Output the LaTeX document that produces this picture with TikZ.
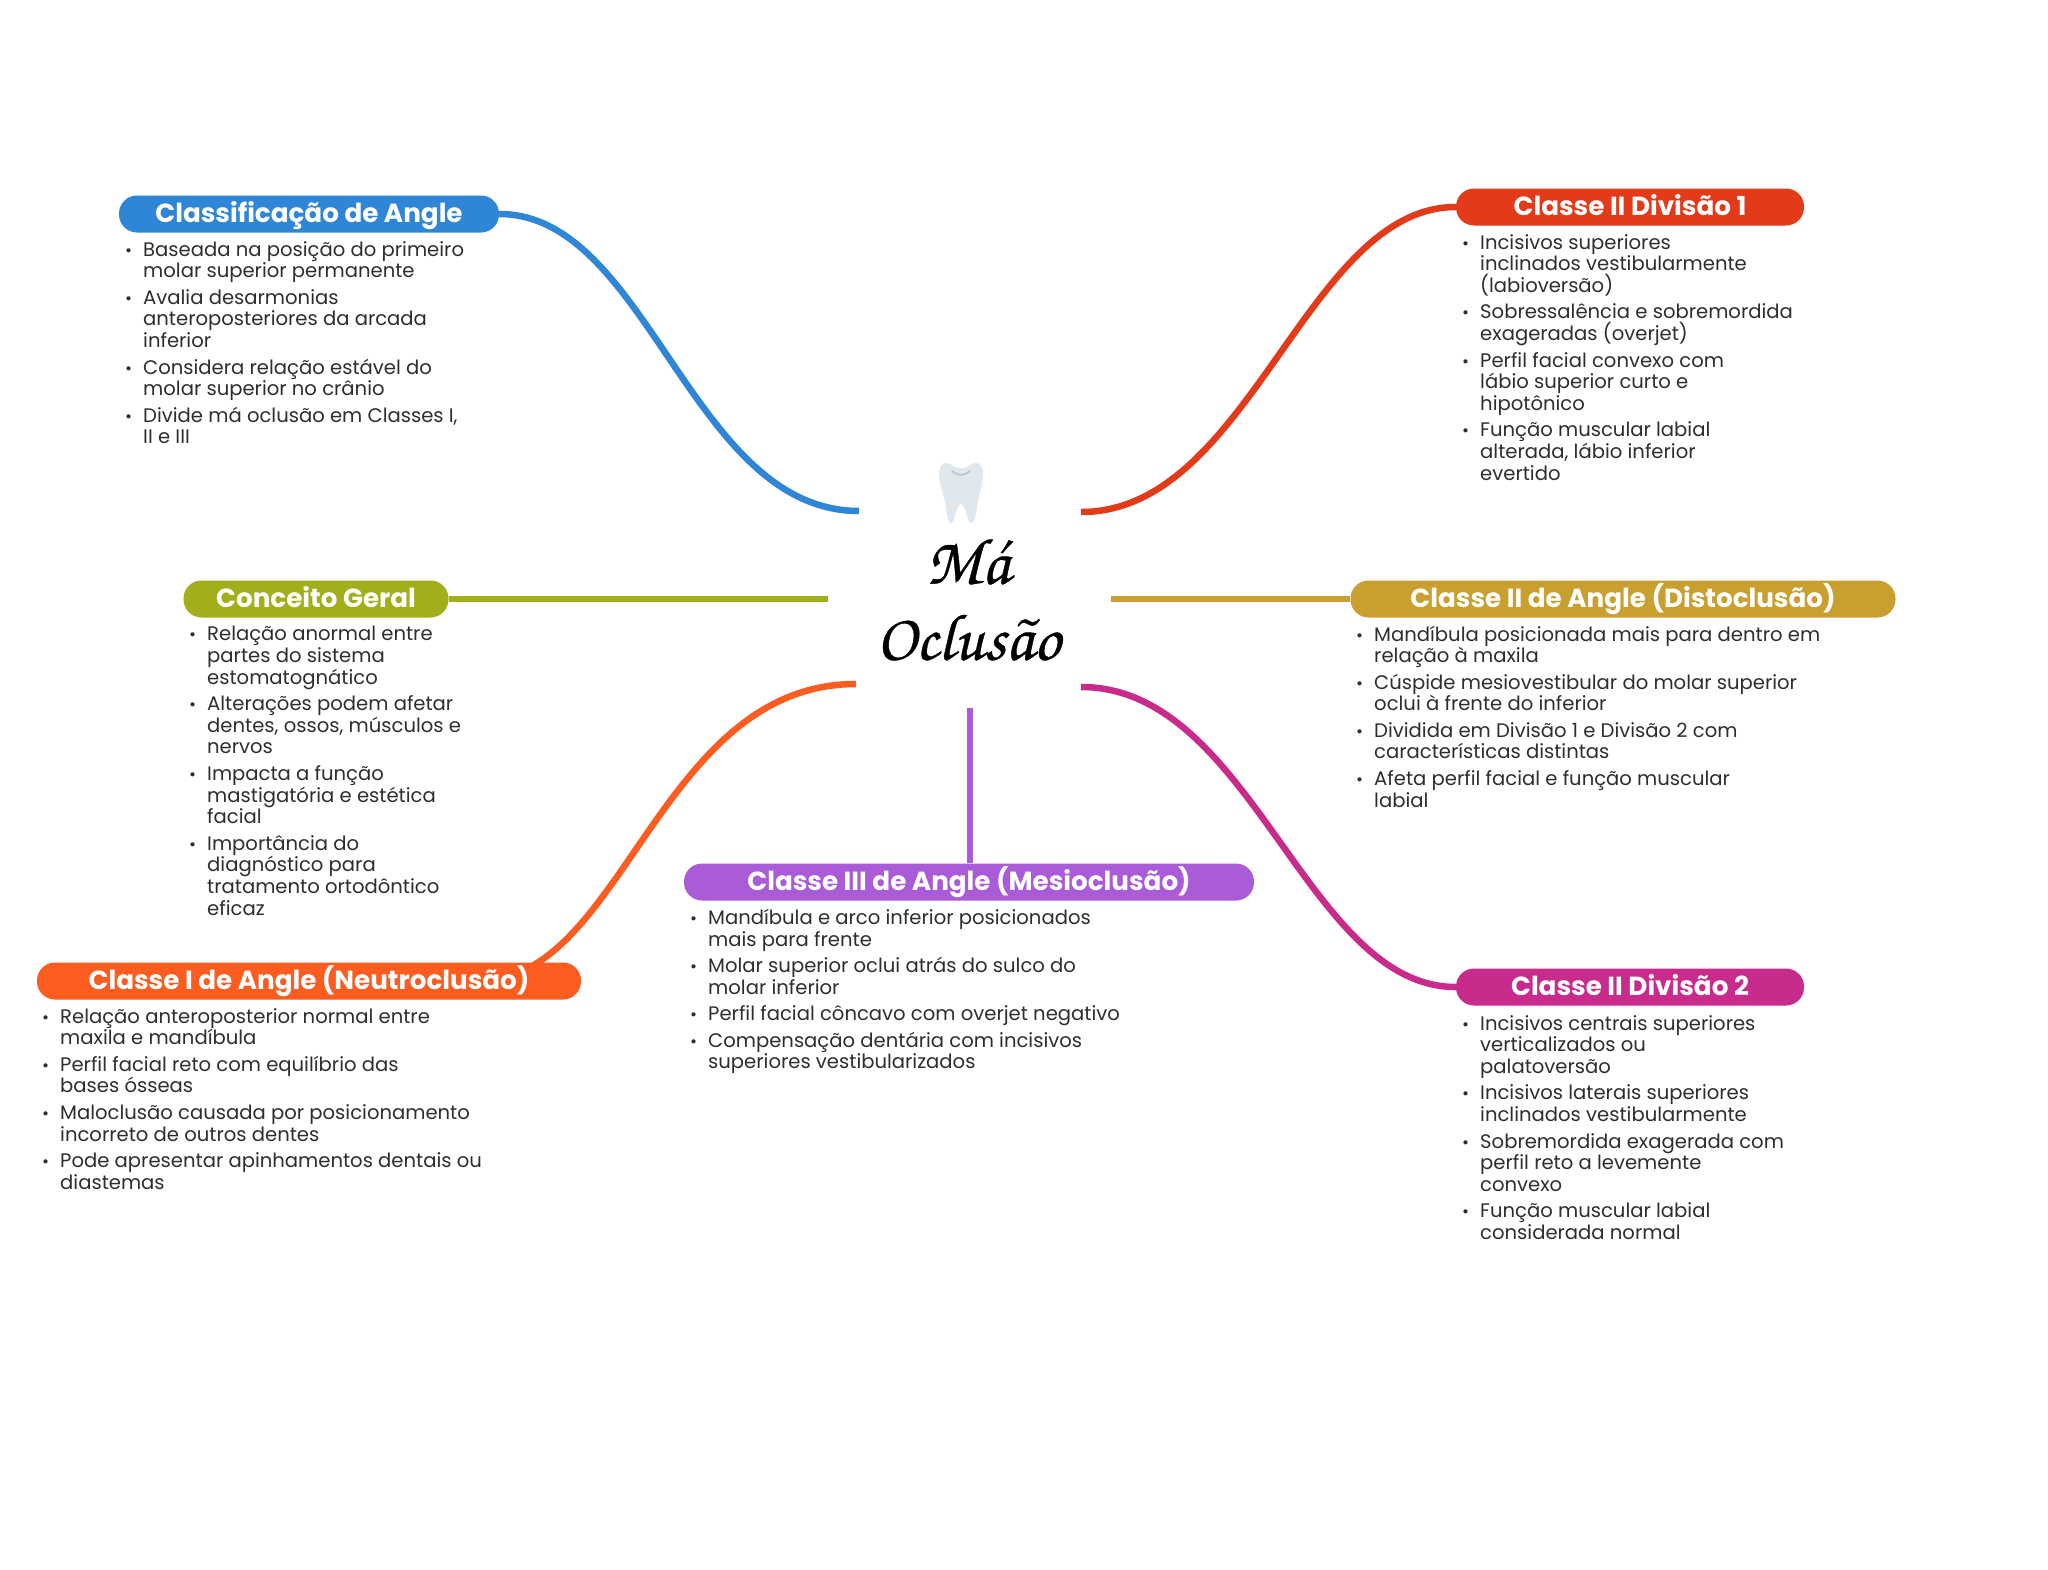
\documentclass[tikz,border=0pt]{standalone}
\usepackage{fontspec}
\usetikzlibrary{backgrounds}
\setmainfont{Poppins}
\newfontfamily\chorus[FakeBold=0.6]{TeX Gyre Chorus}
\definecolor{cblue}{HTML}{2F86D6}
\definecolor{cred}{HTML}{E33A1A}
\definecolor{cgreen}{HTML}{A3AE1B}
\definecolor{cyellow}{HTML}{C9A030}
\definecolor{cpurple}{HTML}{A95BD8}
\definecolor{corange}{HTML}{FB5C20}
\definecolor{cmag}{HTML}{C82B8B}
\definecolor{ctext}{HTML}{2E2E2E}
\definecolor{ctooth}{HTML}{E0E7ED}
\definecolor{csmile}{HTML}{B8C2CC}
\newcommand{\bl}{\leavevmode\llap{\fontsize{17}{17}\selectfont •\hspace{11pt}}}
\tikzset{
  pill/.style={fill=#1,rounded corners=18pt,inner sep=0pt,minimum height=37pt,text=white,
    font=\fontsize{26.2}{26}\selectfont\bfseries,text height=21.5pt,text depth=4pt},
  bodytext/.style={anchor=north west,inner sep=0pt,align=left,text=ctext,
    font=\fontsize{19.6}{21.7}\selectfont},
  branch/.style={draw=#1,line width=6.5pt,line cap=butt},
}
\begin{document}
\begin{tikzpicture}[x=1pt,y=-1pt]
\useasboundingbox (0,0) rectangle (2048,1569);
\begin{scope}[on background layer]
\fill[white] (0,0) rectangle (2048,1569);
\end{scope}
% centre
\node[inner sep=0pt,align=center,font=\fontsize{66}{76}\selectfont\chorus,text=black] (title) at (968,600) {Má\\Oclusão};
\fill[ctooth] (953,466) .. controls (946,460) and (939,463) .. (939,474)
  .. controls (939,486) and (945,497) .. (946,508) .. controls (947,516) and (948,523) .. (951,523)
  .. controls (955,523) and (954,510) .. (961,503) .. controls (968,510) and (967,523) .. (971,523)
  .. controls (974,523) and (976,516) .. (977,508) .. controls (978,497) and (983,486) .. (983,474)
  .. controls (983,463) and (976,460) .. (969,466) .. controls (964,469) and (958,469) .. (953,466) -- cycle;
\draw[csmile,line width=1.5pt] (952,471) .. controls (958,476) and (964,476) .. (970,471);
\coordinate (eblue) at (859,511);
\coordinate (ered) at (1081,512);
\coordinate (egreen) at (828,599);
\coordinate (eyellow) at (1111,599);
\coordinate (eorange) at (856,684);
\coordinate (emag) at (1081,687);
\coordinate (epurple) at (970,708);
\coordinate (sorange) at (481,980);
% pills
\node[pill=cblue,minimum width=380pt] (nblue) at (309,214) {Classificação de Angle};
\node[pill=cred,minimum width=348pt] (nred) at (1630,207) {Classe II Divisão 1};
\node[pill=cgreen,minimum width=265pt] (ngreen) at (316,599) {Conceito Geral};
\node[pill=cyellow,minimum width=545pt] (nyellow) at (1623,599) {Classe II de Angle (Distoclusão)};
\node[pill=cpurple,minimum width=570pt] (npurple) at (969,882) {Classe III de Angle (Mesioclusão)};
\node[pill=corange,minimum width=544pt] (norange) at (309,981) {Classe I de Angle (Neutroclusão)};
\node[pill=cmag,minimum width=348pt] (nmag) at (1630,987) {Classe II Divisão 2};
% connectors behind the pills
\begin{scope}[on background layer]
\draw[branch=cblue] (nblue.east) .. controls (648,214) and (691,511) .. (eblue);
\draw[branch=cred] (nred.west) .. controls (1306,207) and (1250,512) .. (ered);
\draw[branch=cgreen] (ngreen.east) -- (egreen);
\draw[branch=cyellow] (nyellow.west) -- (eyellow);
\draw[branch=cpurple] (npurple.north -| epurple) -- (epurple);
\draw[branch=corange] (sorange) .. controls (623,980) and (659,684) .. (eorange);
\draw[branch=cmag] (nmag.west) .. controls (1306,987) and (1252,687) .. (emag);
\end{scope}
% bodies
\node[bodytext] (bblue) at (143,241) {\bl Baseada na posição do primeiro\\molar superior permanente\\[4.7pt]\bl Avalia desarmonias\\anteroposteriores da arcada\\inferior\\[4.7pt]\bl Considera relação estável do\\molar superior no crânio\\[4.7pt]\bl Divide má oclusão em Classes I,\\II e III};
\node[bodytext] (bgreen) at (207,626) {\bl Relação anormal entre\\partes do sistema\\estomatognático\\[4.7pt]\bl Alterações podem afetar\\dentes, ossos, músculos e\\nervos\\[4.7pt]\bl Impacta a função\\mastigatória e estética\\facial\\[4.7pt]\bl Importância do\\diagnóstico para\\tratamento ortodôntico\\eficaz};
\node[bodytext] (bred) at (1480,234) {\bl Incisivos superiores\\inclinados vestibularmente\\(labioversão)\\[4.7pt]\bl Sobressalência e sobremordida\\exageradas (overjet)\\[4.7pt]\bl Perfil facial convexo com\\lábio superior curto e\\hipotônico\\[4.7pt]\bl Função muscular labial\\alterada, lábio inferior\\evertido};
\node[bodytext] (byellow) at (1374,625.5) {\bl Mandíbula posicionada mais para dentro em\\relação à maxila\\[4.7pt]\bl Cúspide mesiovestibular do molar superior\\oclui à frente do inferior\\[4.7pt]\bl Dividida em Divisão 1 e Divisão 2 com\\características distintas\\[4.7pt]\bl Afeta perfil facial e função muscular\\labial};
\node[bodytext] (bpurple) at (708,909) {\bl Mandíbula e arco inferior posicionados\\mais para frente\\[4.7pt]\bl Molar superior oclui atrás do sulco do\\molar inferior\\[4.7pt]\bl Perfil facial côncavo com overjet negativo\\[4.7pt]\bl Compensação dentária com incisivos\\superiores vestibularizados};
\node[bodytext] (borange) at (60,1008) {\bl Relação anteroposterior normal entre\\maxila e mandíbula\\[4.7pt]\bl Perfil facial reto com equilíbrio das\\bases ósseas\\[4.7pt]\bl Maloclusão causada por posicionamento\\incorreto de outros dentes\\[4.7pt]\bl Pode apresentar apinhamentos dentais ou\\diastemas};
\node[bodytext] (bmag) at (1480,1015) {\bl Incisivos centrais superiores\\verticalizados ou\\palatoversão\\[4.7pt]\bl Incisivos laterais superiores\\inclinados vestibularmente\\[4.7pt]\bl Sobremordida exagerada com\\perfil reto a levemente\\convexo\\[4.7pt]\bl Função muscular labial\\considerada normal};
\end{tikzpicture}
\end{document}
